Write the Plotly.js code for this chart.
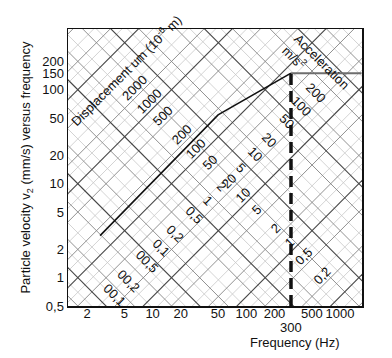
<!DOCTYPE html>
<html><head><meta charset="utf-8">
<script src="https://cdn.plot.ly/plotly-3.0.1.min.js"></script>
<style>html,body{margin:0;padding:0;background:#fff}#chart{width:392px;height:358px}</style>
</head><body><div id="chart"></div>
<script>
// ---- data ----
// limit curve: particle velocity (mm/s) vs frequency (Hz)
const curveFreq = [2.75, 50, 300];
const curveVel = [2.8, 54, 150];
// plateau above 300 Hz (grey)
const plateauFreq = [300, 1700];
const plateauVel = [150, 150];
// dashed cut-off at 300 Hz
const cutFreq = [300, 300];
const cutVel = [0.5, 150];

// axis ticks
const xTickVals = [2, 5, 10, 20, 50, 100, 200, 500, 1000];
const xTickText = ['2', '5', '10', '20', '50', '100', '200', '500', '1000'];
const yTickVals = [0.5, 1, 2, 5, 10, 20, 50, 100, 150, 200];
const yTickText = ['0,5', '1', '2', '5', '10', '20', '50', '100', '150', '200'];

// diagonal scale labels
const dispLabelVals = [2000, 1000, 500, 200, 100, 50, 20, 10, 5, 2, 1, 0.5, 0.2]; // um
const dispLabelText = ['2000', '1000', '500', '200', '100', '50', '20', '10', '5', '2', '1', '0,5', '0,2'];
const accLabelVals = [200, 100, 50, 20, 10, 5, 2, 1, 0.5, 0.2, 0.1, 0.05, 0.02, 0.01]; // m/s2
const accLabelText = ['200', '100', '50', '20', '10', '5', '2', '1', '0,5', '0,2', '0,1', '00,5', '00,2', '00,1'];

// diagonal grid values
const gridDecades = [0.001, 0.01, 0.1, 1, 10, 100, 1000, 10000, 100000];
const gridMain = [2, 5];
const gridMinor = [1.5, 3, 7];

// ---- build ----
const TWO_PI = 2 * Math.PI;
const fEnds = [0.5, 5000];
function dispLine(d) { return fEnds.map(f => TWO_PI * f * d / 1000); }      // v = 2*pi*f*d
function accLine(a) { return fEnds.map(f => 1000 * a / (TWO_PI * f)); }     // v = a/(2*pi*f)

function gridTrace(vals, color, width) {
  const x = [], y = [];
  vals.forEach(v => {
    x.push(fEnds[0], fEnds[1], null); const dv = dispLine(v); y.push(dv[0], dv[1], null);
    x.push(fEnds[0], fEnds[1], null); const av = accLine(v); y.push(av[0], av[1], null);
  });
  return {x, y, type: 'scatter', mode: 'lines', line: {color, width}, hoverinfo: 'skip'};
}
const decadeVals = gridDecades.slice();
const mainVals = [], minorVals = [];
gridDecades.forEach(d => {
  gridMain.forEach(m => mainVals.push(d * m));
  gridMinor.forEach(m => minorVals.push(d * m));
});

const traces = [
  gridTrace(minorVals, '#c8c8c8', 0.8),
  gridTrace(mainVals, '#858585', 0.9),
  gridTrace(decadeVals, '#454545', 1.1),
  {x: plateauFreq, y: plateauVel, type: 'scatter', mode: 'lines', line: {color: '#6e6e6e', width: 2}, hoverinfo: 'skip'},
  {x: curveFreq, y: curveVel, type: 'scatter', mode: 'lines', line: {color: '#111', width: 1.6}, hoverinfo: 'skip'},
  {x: cutFreq, y: cutVel, type: 'scatter', mode: 'lines', line: {color: '#111', width: 3.5, dash: '11px,6px'}, hoverinfo: 'skip'}
];

const ann = [];
const aRow = 4.3, kD = 1.3;   // displacement label row (constant acceleration)
dispLabelVals.forEach((d, i) => {
  const de = d * kD, v = Math.sqrt(aRow * de), f = 1000 * v / (TWO_PI * de);
  ann.push({x: Math.log10(f), y: Math.log10(v), xref: 'x', yref: 'y', text: dispLabelText[i],
    xanchor: 'center', yanchor: 'middle',
    textangle: -45, showarrow: false, font: {size: 13, color: '#111'}});
});
const dRow = 27, kA = 1.6;   // acceleration label row (constant displacement)
accLabelVals.forEach((a, i) => {
  const ae = a * kA, v = Math.sqrt(ae * dRow), f = 1000 * v / (TWO_PI * dRow);
  ann.push({x: Math.log10(f), y: Math.log10(v), xref: 'x', yref: 'y', text: accLabelText[i],
    xanchor: 'center', yanchor: 'middle',
    textangle: 45, showarrow: false, font: {size: 13, color: '#111'}});
});
ann.push({x: 0.197, y: 0.852, xref: 'paper', yref: 'paper', text: 'Displacement um (10<sup>-6</sup> m)',
  xanchor: 'center', yanchor: 'middle',
  textangle: -45, showarrow: false, font: {size: 13, color: '#111'}});
ann.push({x: 0.843, y: 0.86, xref: 'paper', yref: 'paper', text: 'Acceleration<br>m/s<sup>2</sup>', align: 'left',
  xanchor: 'center', yanchor: 'middle',
  textangle: 45, showarrow: false, font: {size: 13, color: '#111'}});
ann.push({x: Math.log10(300), y: -0.078, xref: 'x', yref: 'paper', text: '300', showarrow: false,
  xanchor: 'center', yanchor: 'middle', font: {size: 13, color: '#111'}});
ann.push({x: 0.772, y: -0.13, xref: 'paper', yref: 'paper', text: 'Frequency (Hz)', showarrow: false,
  xanchor: 'center', yanchor: 'middle', font: {size: 13, color: '#111'}});

const layout = {
  width: 392, height: 358,
  margin: {l: 68, r: 30, t: 29, b: 52},
  paper_bgcolor: '#fff', plot_bgcolor: '#fff',
  showlegend: false,
  font: {family: 'Liberation Sans, Arial, sans-serif', size: 13, color: '#111'},
  xaxis: {type: 'log', range: [Math.log10(1.25), Math.log10(1718)], tickvals: xTickVals, ticktext: xTickText,
    showgrid: false, zeroline: false, showline: true, mirror: true, linecolor: '#111', linewidth: 1.5, ticks: '',
    ticklabelstandoff: -5, tickfont: {size: 13}},
  yaxis: {type: 'log', range: [Math.log10(0.5), 2.646], tickvals: yTickVals, ticktext: yTickText,
    showgrid: false, zeroline: false, showline: true, mirror: true, linecolor: '#111', linewidth: 1.5, ticks: '',
    tickfont: {size: 13},
    title: {text: 'Particle velocity v<sub>2</sub> (mm/s) versus frequency', font: {size: 13}, standoff: 8}},
  annotations: ann
};
Plotly.newPlot('chart', traces, layout, {staticPlot: true, displayModeBar: false});
</script></body></html>
